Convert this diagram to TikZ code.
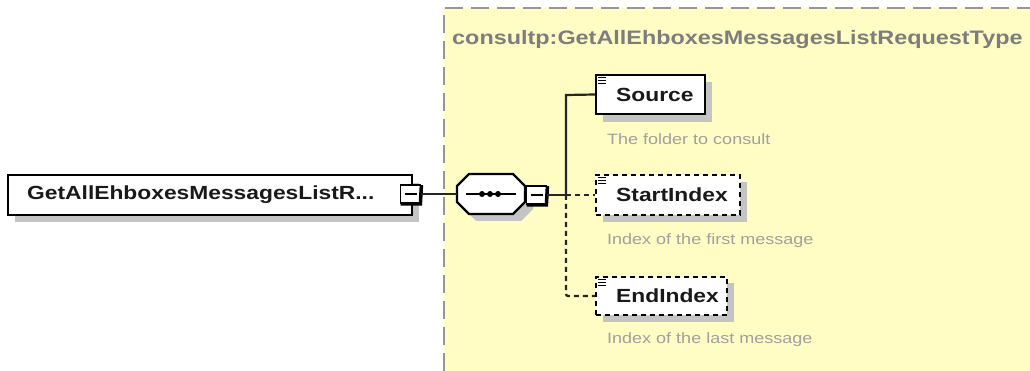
\documentclass[tikz,border=0pt]{standalone}
\usepackage{fontspec}
\newfontfamily\lsans[FakeStretch=1.2]{Liberation Sans}
\definecolor{bgyellow}{RGB}{255,253,196}
\definecolor{shadowgray}{RGB}{196,196,196}
\definecolor{titlegray}{RGB}{125,125,125}
\definecolor{descgray}{RGB}{160,160,160}
\definecolor{bordergray}{RGB}{150,150,150}
\tikzset{
  elem/.style={draw=black, line width=2.4pt, fill=white, inner sep=0pt},
  optelem/.style={elem, dash pattern=on 5pt off 4pt},
  elemtext/.style={font=\lsans\fontsize{19}{22}\selectfont\bfseries, text=black!90, anchor=west, inner sep=0pt},
  desctext/.style={font=\lsans\fontsize{15}{18}\selectfont, text=descgray, anchor=west, inner sep=0pt},
  conn/.style={line width=2.2pt, black!85},
  optconn/.style={conn, dash pattern=on 5pt off 4pt},
  minusbox/.style={draw=black, line width=1.8pt, fill=white, minimum width=20pt, minimum height=18pt, inner sep=0pt}
}
\newcommand{\docicon}[2]{%
  \draw[line width=1pt] (#1+2,#2+2.5) -- (#1+10,#2+2.5);
  \draw[line width=1pt] (#1+2,#2+5.5) -- (#1+10,#2+5.5);
  \draw[line width=1pt] (#1+2,#2+8.5) -- (#1+10,#2+8.5);
}
\newcommand{\minusmark}[1]{%
  \draw[line width=1.8pt] ([xshift=-6pt]#1.center) -- ([xshift=6pt]#1.center);
  \draw[line width=3.5pt] ([yshift=-1pt]#1.north east) -- ([xshift=-1pt]#1.south east) -- ([xshift=1pt]#1.south west);
}
\begin{document}
\begin{tikzpicture}[x=1pt,y=-1pt]
\useasboundingbox (0,0) rectangle (1030,371);
\fill[white] (0,0) rectangle (1030,371);
% type region
\fill[bgyellow] (444,8) rectangle (1030,371);
\draw[bordergray, line width=2.5pt, dash pattern=on 18pt off 8pt] (444,371) -- (444,8) -- (1030,8);
\node[font=\lsans\fontsize{19.5}{22}\selectfont\bfseries, text=titlegray, anchor=west, inner sep=0pt] (title) at (452,40) {consultp:GetAllEhboxesMessagesListRequestType};

% main element
\fill[shadowgray] (15,183) rectangle (419,222);
\node[elem, minimum width=404pt, minimum height=40pt] (main) at (210,195) {};
\node[elemtext] (maintext) at (27,195) {GetAllEhboxesMessagesListR...};
\node[minusbox] (mainminus) at (410.5,194) {};
\minusmark{mainminus}

% sequence compositor
\fill[shadowgray] (476,181) -- (521,181) -- (533,193) -- (533,209) -- (521,221) -- (476,221) -- (464,209) -- (464,193) -- cycle;
\draw[line width=2.4pt, fill=white] (469,174) -- (513,174) -- (525,186) -- (525,202) -- (513,214) -- (469,214) -- (457,202) -- (457,186) -- cycle;
\coordinate (seq) at (457,194);
\draw[line width=2.2pt] (466,194) -- (516,194);
\foreach \dx in {482,490,498} \fill (\dx,194) circle (3pt);
\node[minusbox] (seqminus) at (536.5,195) {};
\minusmark{seqminus}

% branch point
\coordinate (branch) at (566,195);
\coordinate (btop) at (566,95);
\coordinate (bbot) at (566,296);

% Source
\fill[shadowgray] (603,82) rectangle (712,122);
\node[elem, minimum width=109pt, minimum height=39pt] (source) at (650.5,94.5) {};
\docicon{596}{75}
\node[elemtext] (sourcetext) at (616,95) {Source};
\node[desctext] (sourcedesc) at (607,139) {The folder to consult};

% StartIndex
\fill[shadowgray] (603,182) rectangle (747,222);
\node[optelem, minimum width=144pt, minimum height=40pt] (start) at (668,195) {};
\docicon{596}{175}
\node[elemtext] (starttext) at (616,195) {StartIndex};
\node[desctext] (startdesc) at (607,241) {Index of the first message};

% EndIndex
\fill[shadowgray] (603,283) rectangle (734,322);
\node[optelem, minimum width=131pt, minimum height=38pt] (end) at (661.5,296) {};
\docicon{596}{277}
\node[elemtext] (endtext) at (616,296) {EndIndex};
\node[desctext] (enddesc) at (607,340) {Index of the last message};

% connectors
\draw[conn] (mainminus.east) -- (seq);
\draw[conn] (seqminus.east) -- (branch);
\draw[conn] (branch) -- (btop) -- (source.west);
\draw[optconn] (branch) -- (start.west);
\draw[optconn, rounded corners=2pt] (branch) -- (bbot) -- (end.west);
\end{tikzpicture}
\end{document}
